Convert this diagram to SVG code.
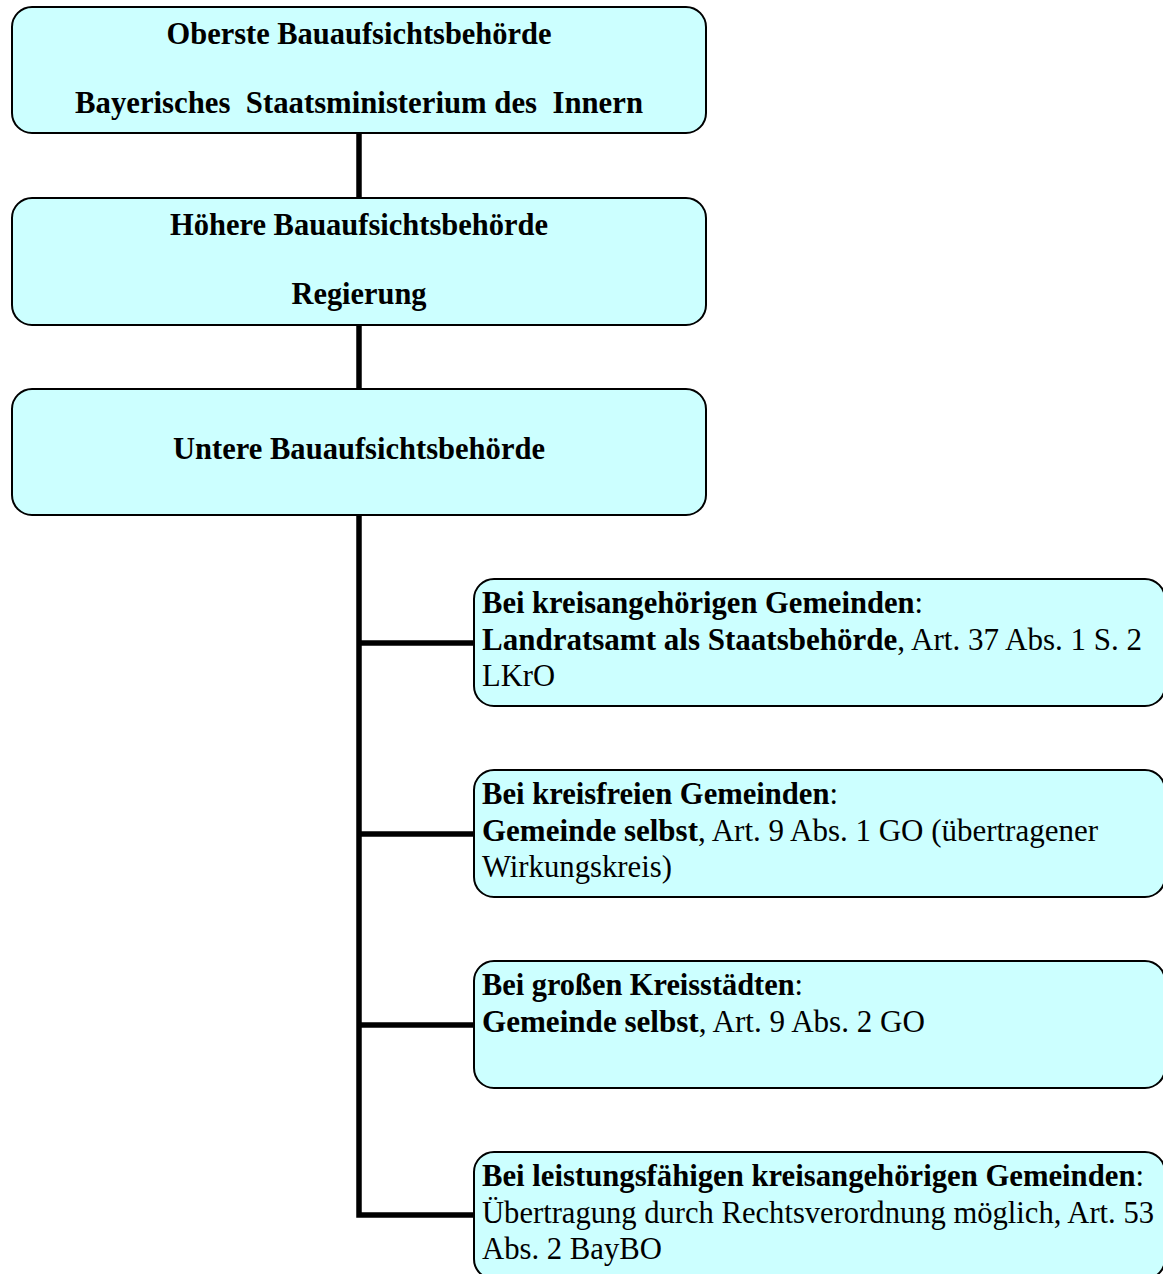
<svg xmlns="http://www.w3.org/2000/svg" width="1163" height="1274" viewBox="0 0 1163 1274">
<style>
.box{fill:#CCFFFF;stroke:#000;stroke-width:2}
.t{font-family:"Liberation Serif","Times New Roman","DejaVu Serif",serif;font-size:30.5px;fill:#000}
.b{font-weight:bold}
.c{text-anchor:middle}
.ln{stroke:#000;stroke-width:5.5;fill:none}
</style>
<rect width="1163" height="1274" fill="#fff"/>
<g id="connectors">
<line class="ln" x1="359" y1="133" x2="359" y2="198"/>
<line class="ln" x1="359" y1="325" x2="359" y2="389"/>
<polyline class="ln" points="359,515 359,1215 474,1215"/>
<line class="ln" x1="359" y1="643" x2="474" y2="643"/>
<line class="ln" x1="359" y1="834" x2="474" y2="834"/>
<line class="ln" x1="359" y1="1025" x2="474" y2="1025"/>
</g>
<g id="n1">
<rect class="box" x="12" y="7" width="694" height="126" rx="20"/>
<text class="t b c" x="359" y="43.5" textLength="385" lengthAdjust="spacingAndGlyphs">Oberste Bauaufsichtsbehörde</text>
<text class="t b c" x="359" y="113" xml:space="preserve" textLength="568" lengthAdjust="spacingAndGlyphs">Bayerisches  Staatsministerium des  Innern</text>
</g>
<g id="n2">
<rect class="box" x="12" y="198" width="694" height="127" rx="20"/>
<text class="t b c" x="359" y="234.5" textLength="378" lengthAdjust="spacingAndGlyphs">Höhere Bauaufsichtsbehörde</text>
<text class="t b c" x="359" y="304" textLength="135" lengthAdjust="spacingAndGlyphs">Regierung</text>
</g>
<g id="n3">
<rect class="box" x="12" y="389" width="694" height="126" rx="20"/>
<text class="t b c" x="359" y="459" textLength="372" lengthAdjust="spacingAndGlyphs">Untere Bauaufsichtsbehörde</text>
</g>
<g id="n4">
<rect class="box" x="474" y="579" width="691" height="127" rx="20"/>
<text class="t" x="482" y="613" textLength="441" lengthAdjust="spacingAndGlyphs"><tspan class="b">Bei kreisangehörigen Gemeinden</tspan>:</text>
<text class="t" x="482" y="650" textLength="660" lengthAdjust="spacingAndGlyphs"><tspan class="b">Landratsamt als Staatsbehörde</tspan>, Art. 37 Abs. 1 S. 2</text>
<text class="t" x="482" y="686" textLength="73" lengthAdjust="spacingAndGlyphs">LKrO</text>
</g>
<g id="n5">
<rect class="box" x="474" y="770" width="691" height="127" rx="20"/>
<text class="t" x="482" y="804" textLength="356" lengthAdjust="spacingAndGlyphs"><tspan class="b">Bei kreisfreien Gemeinden</tspan>:</text>
<text class="t" x="482" y="841" textLength="616" lengthAdjust="spacingAndGlyphs"><tspan class="b">Gemeinde selbst</tspan>, Art. 9 Abs. 1 GO (übertragener</text>
<text class="t" x="482" y="877" textLength="190" lengthAdjust="spacingAndGlyphs">Wirkungskreis)</text>
</g>
<g id="n6">
<rect class="box" x="474" y="961" width="691" height="127" rx="20"/>
<text class="t" x="482" y="995" textLength="321" lengthAdjust="spacingAndGlyphs"><tspan class="b">Bei großen Kreisstädten</tspan>:</text>
<text class="t" x="482" y="1032" textLength="443" lengthAdjust="spacingAndGlyphs"><tspan class="b">Gemeinde selbst</tspan>, Art. 9 Abs. 2 GO</text>
</g>
<g id="n7">
<rect class="box" x="474" y="1152" width="691" height="127" rx="20"/>
<text class="t" x="482" y="1186" textLength="662" lengthAdjust="spacingAndGlyphs"><tspan class="b">Bei leistungsfähigen kreisangehörigen Gemeinden</tspan>:</text>
<text class="t" x="482" y="1223" textLength="672" lengthAdjust="spacingAndGlyphs">Übertragung durch Rechtsverordnung möglich, Art. 53</text>
<text class="t" x="482" y="1259" textLength="180" lengthAdjust="spacingAndGlyphs">Abs. 2 BayBO</text>
</g>
</svg>
